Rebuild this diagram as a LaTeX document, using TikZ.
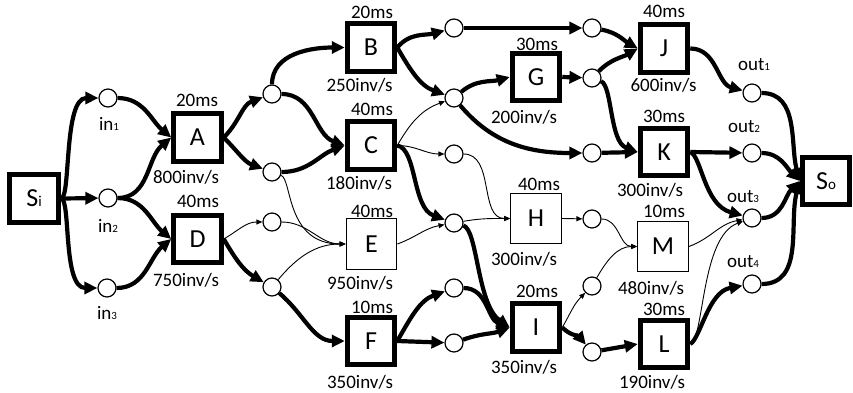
\documentclass[tikz,border=0pt]{standalone}
\usepackage{fontspec}
\setmainfont{Carlito}
\usetikzlibrary{arrows.meta}
\newcommand\smallsub[1]{{\fontsize{11}{11}\selectfont #1}}
\newcommand\boxsub[1]{{\fontsize{15}{15}\selectfont #1}}
\begin{document}
\begin{tikzpicture}[x=1pt,y=1pt,
  tbox/.style={draw, line width=5pt, minimum width=47.5pt, minimum height=47.5pt, inner sep=0pt, font=\fontsize{26}{28}\selectfont},
  nbox/.style={draw, line width=1.3pt, minimum width=50.5pt, minimum height=50.5pt, inner sep=0pt, font=\fontsize{26}{28}\selectfont},
  place/.style={circle, draw, line width=1.2pt, fill=white, minimum size=18pt, inner sep=0pt},
  lbl/.style={font=\fontsize{19}{21}\selectfont, inner sep=0pt},
  thk/.style={line width=4.2pt, -{Triangle[length=13pt,width=12pt]}},
  thn/.style={line width=0.9pt, -{Triangle[length=6pt,width=5pt]}}]
\useasboundingbox (0,0) rectangle (853,392);
% boxes
\node[tbox, minimum width=49pt, minimum height=48pt] (Si) at (34,193.5) {S\boxsub{i}};
\node[tbox] (A) at (197.5,254.5) {A};
\node[tbox] (D) at (197.5,153) {D};
\node[tbox] (B) at (371,344.5) {B};
\node[tbox] (C) at (371,246.5) {C};
\node[nbox] (E) at (371.5,148) {E};
\node[tbox] (F) at (371,51) {F};
\node[tbox] (G) at (536,315) {G};
\node[nbox] (H) at (536,173.5) {H};
\node[tbox] (I) at (536,64.5) {I};
\node[tbox] (J) at (664,343.5) {J};
\node[tbox] (K) at (664,240) {K};
\node[nbox] (M) at (663,145.5) {M};
\node[tbox] (L) at (664,48) {L};
\node[tbox] (So) at (826,211) {S\boxsub{o}};
% places
\node[place] (in1) at (108,294) {};
\node[place] (in2) at (108,194) {};
\node[place] (in3) at (107,104) {};
\node[place] (a1) at (272,298) {};
\node[place] (a2) at (272,220) {};
\node[place] (d1) at (272,170) {};
\node[place] (d2) at (272,105) {};
\node[place] (b1) at (454,364) {};
\node[place] (b2) at (454,294) {};
\node[place] (c1) at (454,238) {};
\node[place] (c2) at (454,169) {};
\node[place] (f1) at (454,104) {};
\node[place] (f2) at (454,49) {};
\node[place] (j1) at (592,364) {};
\node[place] (g1) at (592,314) {};
\node[place] (k1) at (592,239) {};
\node[place] (h1) at (592,173) {};
\node[place] (i1) at (592,106) {};
\node[place] (i2) at (592,40) {};
\node[place] (out1) at (752,299) {};
\node[place] (out2) at (752,239) {};
\node[place] (out3) at (752,174) {};
\node[place] (out4) at (752,108) {};
% labels
\node[lbl] (lin1) at (109,268) {in\smallsub{1}};
\node[lbl] (lin2) at (108,166) {in\smallsub{2}};
\node[lbl] (lin3) at (107,79) {in\smallsub{3}};
\node[lbl] (lout1) at (754,327) {out\smallsub{1}};
\node[lbl] (lout2) at (744,265) {out\smallsub{2}};
\node[lbl] (lout3) at (743,195) {out\smallsub{3}};
\node[lbl] (lout4) at (743,130) {out\smallsub{4}};
\node[lbl] (tA) at (197,292) {20ms};   \node[lbl] (bA) at (186,215) {800inv/s};
\node[lbl] (tD) at (198,191) {40ms};   \node[lbl] (bD) at (186,112) {750inv/s};
\node[lbl] (tB) at (372,380) {20ms};   \node[lbl] (bB) at (359.5,307) {250inv/s};
\node[lbl] (tC) at (372,283) {40ms};   \node[lbl] (bC) at (359,209) {180inv/s};
\node[lbl] (tE) at (372,181) {40ms};   \node[lbl] (bE) at (360,109) {950inv/s};
\node[lbl] (tF) at (372,85) {10ms};    \node[lbl] (bF) at (360,10) {350inv/s};
\node[lbl] (tG) at (537,348) {30ms};   \node[lbl] (bG) at (524,275) {200inv/s};
\node[lbl] (tH) at (539,208) {40ms};   \node[lbl] (bH) at (524,133) {300inv/s};
\node[lbl] (tI) at (537,101) {20ms};   \node[lbl] (bI) at (524,25) {350inv/s};
\node[lbl] (tJ) at (664,381) {40ms};   \node[lbl] (bJ) at (663.5,307) {600inv/s};
\node[lbl] (tK) at (664,276) {30ms};   \node[lbl] (bK) at (650,202) {300inv/s};
\node[lbl] (tM) at (664,181) {10ms};   \node[lbl] (bM) at (651,104) {480inv/s};
\node[lbl] (tL) at (664,83) {30ms};    \node[lbl] (bL) at (652,10) {190inv/s};
% connectors
\draw[thk] (Si.east) to[out=0,in=180,out distance=10pt,in distance=35pt] (in1);
\draw[thk] (Si.east) -- (in2);
\draw[thk] (Si.east) to[out=0,in=180,out distance=10pt,in distance=35pt] (in3);
\draw[thk] (in1) to[out=0,in=140] (A.west);
\draw[thk] (in2) to[out=0,in=220] (A.west);
\draw[thk] (in2) to[out=0,in=140] (D.west);
\draw[thk] (in3) to[out=0,in=220] (D.west);
\draw[thk] (A.east) to[out=45,in=200] (a1);
\draw[thk] (A.east) to[out=-45,in=160] (a2);
\draw[thk] (a1) to[out=90,in=180] (B.west);
\draw[thk] (a1) to[out=0,in=160] (C.west);
\draw[thk] (a2) to[out=0,in=200] (C.west);
\draw[thn] (a2) to[out=-20,in=180,out distance=12pt,in distance=60pt] (E.west);
\draw[thn] (D.east) to[out=30,in=180] (d1);
\draw[thk] (D.east) to[out=-60,in=150] (d2);
\draw[thn] (d1) to[out=0,in=180] (E.west);
\draw[thn] (d2) to[out=50,in=180] (E.west);
\draw[thk] (d2) to[out=-40,in=180] (F.west);
\draw[thk] (B.east) to[out=50,in=195] (b1);
\draw[thk] (B.east) to[out=-60,in=160] (b2);
\draw[thn] (C.east) to[out=60,in=200] (b2);
\draw[thn] (C.east) to[out=0,in=180] (c1);
\draw[thk] (C.east) to[out=-10,in=160,out distance=20pt,in distance=35pt] (c2);
\draw[thn] (E.east) to[out=20,in=190] (c2);
\draw[thk] (F.east) to[out=60,in=200] (f1);
\draw[thk] (F.east) -- (f2);
\draw[thk] (b1) -- (j1);
\draw[thk] (b2) to[out=40,in=195] (G.west);
\draw[thk] (b2) to[out=-50,in=180] (k1);
\draw[thk] (G.east) -- (g1);
\draw[thn] (c1) to[out=0,in=180] (H.west);
\draw[thn] (c2) to[out=10,in=180] (H.west);
\draw[thk] (c2) to[out=-15,in=145,out distance=15pt,in distance=40pt] (I.west);
\draw[thk] (f1) to[out=0,in=160] (I.west);
\draw[thk] (f2) to[out=20,in=200] (I.west);
\draw[thn] (H.east) -- (h1);
\draw[thn] (I.east) to[out=60,in=225] (i1);
\draw[thk] (I.east) to[out=-45,in=130] (i2);
\draw[thk] (j1) to[out=-10,in=150] (J.west);
\draw[thk] (g1) to[out=45,in=210] (J.west);
\draw[thk] (g1) to[out=-20,in=160,out distance=12pt,in distance=30pt] (K.west);
\draw[thk] (k1) -- (K.west);
\draw[thn] (h1) to[out=0,in=180] (M.west);
\draw[thn] (i1) to[out=60,in=180] (M.west);
\draw[thk] (i2) to[out=10,in=190] (L.west);
\draw[thk] (J.east) to[out=0,in=165] (out1);
\draw[thk] (K.east) -- (out2);
\draw[thk] (K.east) to[out=-20,in=165,out distance=12pt,in distance=40pt] (out3);
\draw[thn] (M.east) to[out=20,in=190] (out3);
\draw[thn] (L.east) to[out=20,in=200,out distance=15pt,in distance=45pt] (out3);
\draw[thk] (L.east) to[out=30,in=190,out distance=12pt,in distance=35pt] (out4);
\draw[thk] (out1) to[out=0,in=105] (So.west);
\draw[thk] (out2) to[out=0,in=135] (So.west);
\draw[thk] (out3) to[out=0,in=225] (So.west);
\draw[thk] (out4) to[out=0,in=255] (So.west);
\end{tikzpicture}
\end{document}
